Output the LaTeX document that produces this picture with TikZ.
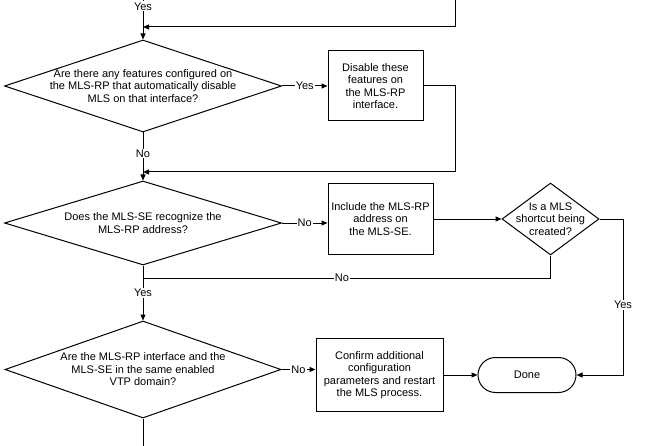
\documentclass[tikz,border=0pt]{standalone}
\usepackage{fontspec}
\setmainfont{Liberation Sans}
\usetikzlibrary{shapes.geometric,shapes.misc,arrows.meta}
\begin{document}
\begin{tikzpicture}[x=1pt,y=-1pt,
  every node/.style={font=\fontsize{11}{12.5}\selectfont},
  conn/.style={draw, line width=1pt},
  arr/.style={conn, -{Triangle[length=6pt,width=5pt]}},
  dia/.style={draw, diamond, line width=1pt, inner sep=0pt},
  box/.style={draw, rectangle, line width=1pt, align=center, inner sep=0pt},
  term/.style={draw, rounded rectangle, line width=1pt, inner sep=0pt},
  lbl/.style={fill=white, inner sep=1pt}]
\fill[white] (0,0) rectangle (652,446);
\useasboundingbox (0,0) rectangle (652,446);

% nodes
\node[dia, minimum width=277pt, minimum height=92pt,
  label={[align=center]center:{Are there any features configured on\\the MLS-RP that automatically disable\\MLS on that interface?}}] (d1) at (143,86) {};
\node[box, minimum width=95pt, minimum height=70pt] (b1) at (375.5,86) {Disable these\\features on\\the MLS-RP\\interface.};
\node[dia, minimum width=277pt, minimum height=84pt,
  label={[align=center]center:{Does the MLS-SE recognize the\\MLS-RP address?}}] (d2) at (143,223) {};
\node[box, minimum width=105pt, minimum height=70pt] (b2) at (380.5,219) {Include the MLS-RP\\address on\\the MLS-SE.};
\node[dia, minimum width=97pt, minimum height=72pt,
  label={[align=center]center:{Is a MLS\\shortcut being\\created?}}] (d3) at (550.5,219) {};
\node[dia, minimum width=276pt, minimum height=97pt,
  label={[align=center]center:{Are the MLS-RP interface and the\\MLS-SE in the same enabled\\VTP domain?}}] (d4) at (143,369.5) {};
\node[box, minimum width=127pt, minimum height=73pt] (b3) at (379.5,375) {Confirm additional\\configuration\\parameters and restart\\the MLS process.};
\node[term, minimum width=98pt, minimum height=35pt] (done) at (527,375) {Done};

% coordinates
\coordinate (top) at (143,0);
\coordinate (tr) at (455,0);
\coordinate (j1) at (143,27);
\coordinate (c1) at (455,172);
\coordinate (j2) at (143,172);
\coordinate (j3) at (143,278);
\coordinate (c2) at (623,375);
\coordinate (bot) at (143,446);

% connectors
\draw[arr] (top) -- node[lbl, pos=0.16]{Yes} (d1.north);
\draw[arr] (tr) |- (j1);
\draw[arr] (d1.east) -- node[lbl]{Yes} (d1.east -| b1.west);
\draw[arr] (d1.south) -- node[lbl, pos=0.44]{No} (d2.north);
\draw[arr] (b1.east) -| (c1) -- (j2);
\draw[arr] (d2.east) -- node[lbl]{No} (d2.east -| b2.west);
\draw[arr] (b2.east) -- (d3.west);
\draw[conn] (d3.south) |- node[lbl, pos=0.756]{No} (j3);
\draw[arr] (d2.south) -- node[lbl, pos=0.5]{Yes} (d4.north);
\draw[arr] (d3.east) -| node[lbl, pos=0.775]{Yes} (c2) -- (done.east);
\draw[arr] (d4.east) -- node[lbl]{No} (d4.east -| b3.west);
\draw[arr] (b3.east) -- (done.west);
\draw[conn] (d4.south) -- (bot);
\end{tikzpicture}
\end{document}
